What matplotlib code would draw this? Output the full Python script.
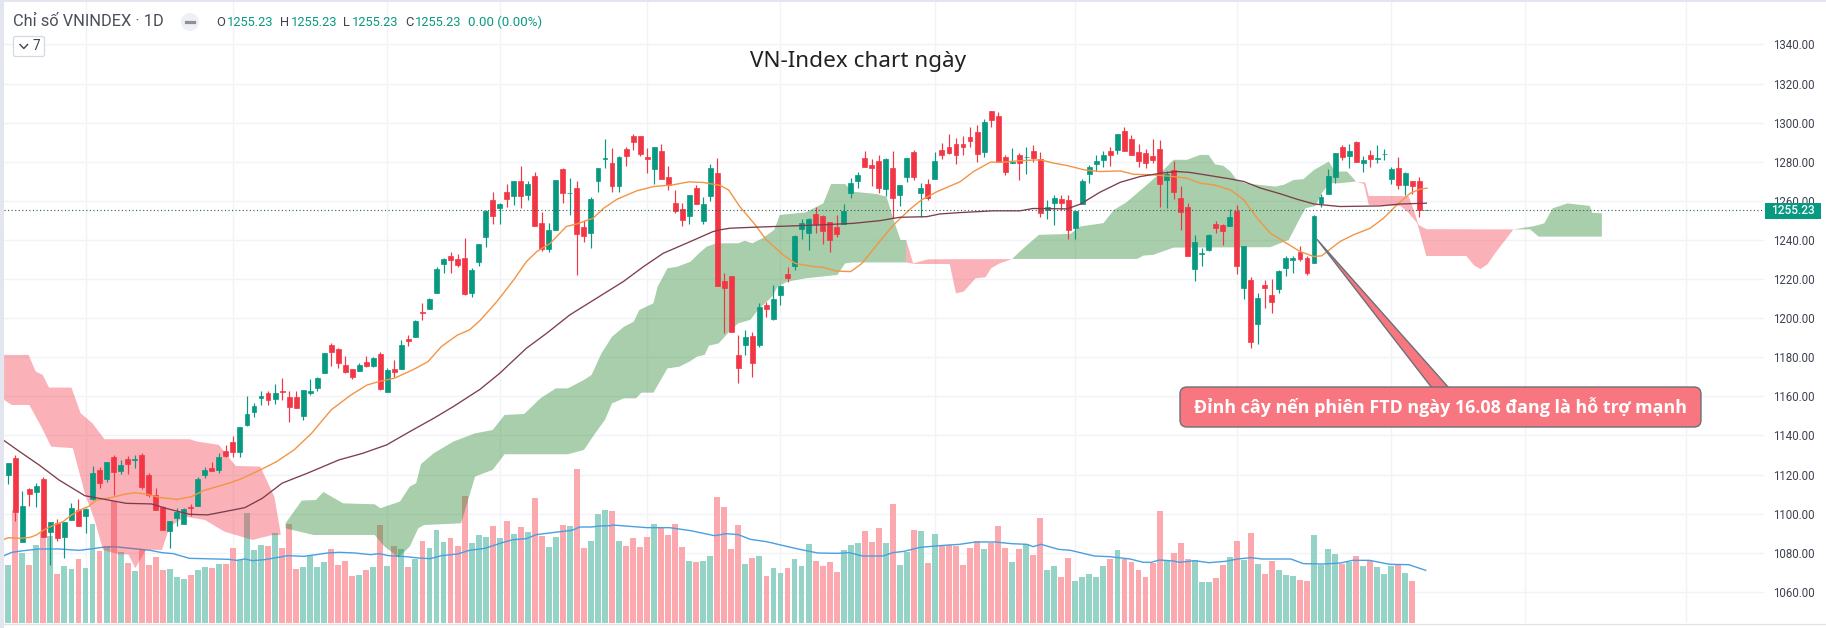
import numpy as np
import matplotlib
matplotlib.use("Agg")
import matplotlib.pyplot as plt
from matplotlib.patches import FancyBboxPatch, Rectangle, Circle, Polygon
from matplotlib.lines import Line2D
from matplotlib.transforms import Affine2D

opens = [1119.8,1128.3,1085.7,1112.6,1111.1,1117.6,1090.6,1095.4,1088.2,1096.7,
1101.9,1098.8,1107.5,1122.3,1117.7,1129.1,1121.8,1128.0,1127.6,1130.0,
1119.8,1109.4,1103.6,1091.3,1097.8,1094.9,1103.2,1103.9,1119.8,1123.2,
1122.3,1131.9,1136.5,1131.8,1145.2,1152.0,1159.4,1161.6,1158.9,1162.8,
1159.7,1159.5,1150.0,1161.9,1164.1,1171.8,1186.3,1184.1,1175.9,1173.9,
1173.2,1177.6,1175.6,1181.7,1162.4,1173.9,1174.2,1189.6,1190.6,1203.2,
1204.9,1213.0,1227.9,1231.8,1230.3,1230.6,1213.0,1228.9,1241.7,1260.2,
1256.6,1264.6,1262.7,1270.2,1263.1,1272.8,1248.6,1235.4,1245.3,1276.4,
1263.9,1266.6,1246.5,1243.6,1269.9,1281.6,1279.4,1267.8,1286.6,1293.2,
1293.2,1282.3,1276.4,1285.6,1272.3,1258.9,1255.9,1252.5,1266.6,1249.8,
1262.5,1274.3,1219.0,1221.8,1181.2,1186.3,1190.9,1186.3,1206.8,1199.6,
1212.0,1222.6,1226.9,1245.5,1243.6,1253.3,1252.3,1249.0,1246.7,1248.4,
1264.2,1270.4,1281.8,1278.4,1280.4,1265.9,1276.8,1263.2,1272.2,1285.0,
1264.2,1268.6,1271.2,1286.0,1287.4,1289.1,1289.2,1292.7,1295.3,1285.1,
1306.0,1303.5,1282.5,1279.3,1283.5,1282.2,1285.6,1281.5,1255.2,1259.0,
1261.0,1260.5,1246.2,1258.5,1273.6,1279.0,1281.0,1285.6,1286.1,1295.8,
1291.7,1285.1,1284.5,1283.0,1286.6,1270.7,1275.9,1261.5,1256.9,1225.2,
1232.9,1234.9,1248.2,1247.7,1247.2,1254.9,1215.5,1219.6,1197.1,1217.0,
1211.9,1215.0,1225.7,1229.8,1233.9,1230.8,1228.3,1258.9,1263.6,1272.3,
1287.4,1283.0,1290.2,1279.4,1283.5,1281.5,1283.9,1271.2,1276.9,1268.2,
1270.0,1270.2,1255.23]
highs = [1126.1,1130.0,1111.8,1113.3,1115.5,1118.6,1095.7,1097.1,1095.7,1105.3,
1107.3,1102.7,1124.4,1124.0,1126.4,1130.0,1127.4,1129.5,1130.0,1131.2,
1120.6,1112.9,1103.9,1096.2,1102.7,1102.7,1104.8,1118.9,1123.7,1126.6,
1130.9,1135.1,1139.7,1144.5,1160.2,1156.5,1163.0,1163.0,1166.2,1169.3,
1163.0,1163.0,1163.3,1169.1,1170.1,1182.0,1187.2,1184.6,1180.7,1173.9,
1176.9,1180.7,1180.3,1182.6,1174.4,1178.6,1188.9,1191.3,1199.1,1207.9,
1210.1,1226.0,1230.6,1234.0,1232.7,1241.2,1225.5,1237.9,1255.4,1264.6,
1258.8,1268.5,1270.2,1277.9,1270.2,1274.6,1254.5,1248.6,1270.7,1276.7,
1271.6,1270.2,1250.3,1262.2,1276.9,1291.7,1286.9,1283.0,1287.4,1294.3,
1293.2,1286.9,1287.4,1289.1,1277.9,1265.6,1259.1,1263.1,1268.2,1262.2,
1278.9,1281.8,1223.0,1221.8,1191.4,1194.0,1193.1,1207.6,1208.5,1217.0,
1217.0,1226.4,1242.6,1250.6,1251.1,1256.7,1252.8,1249.4,1252.8,1258.4,
1271.5,1274.6,1285.7,1281.3,1283.5,1281.8,1285.7,1268.1,1281.9,1286.0,
1269.0,1271.0,1284.8,1289.8,1294.2,1292.0,1293.2,1297.8,1298.9,1301.8,
1306.0,1305.4,1283.5,1286.9,1284.4,1287.3,1288.6,1284.9,1260.5,1263.1,
1263.1,1263.1,1254.9,1271.2,1278.4,1283.5,1285.6,1287.3,1294.3,1298.0,
1293.8,1289.2,1286.6,1291.7,1291.2,1275.3,1280.5,1267.7,1259.0,1242.6,
1235.8,1243.3,1249.7,1248.2,1255.9,1257.9,1236.9,1221.1,1213.1,1219.6,
1220.1,1224.7,1231.9,1231.9,1236.9,1231.9,1252.8,1263.6,1276.4,1284.7,
1288.6,1289.1,1290.7,1283.0,1286.1,1288.6,1286.6,1277.2,1282.3,1274.8,
1270.2,1272.3,1255.23]
lows = [1115.2,1096.2,1085.7,1103.9,1103.2,1088.2,1073.7,1086.2,1077.1,1096.7,
1093.9,1089.9,1107.0,1113.3,1116.2,1109.7,1120.1,1120.3,1123.2,1112.4,
1108.3,1101.9,1091.6,1082.6,1093.7,1094.5,1099.0,1103.9,1118.4,1122.0,
1121.0,1129.1,1129.1,1128.9,1144.9,1149.7,1155.6,1155.6,1156.1,1158.2,
1147.1,1154.3,1148.0,1160.7,1163.0,1171.8,1175.6,1174.4,1172.2,1168.9,
1173.2,1175.2,1175.2,1163.3,1162.4,1169.8,1174.2,1185.8,1190.6,1199.1,
1204.9,1213.0,1223.3,1223.3,1226.3,1211.9,1211.0,1226.9,1236.6,1248.2,
1248.2,1256.7,1257.9,1256.4,1260.5,1247.2,1234.1,1233.6,1245.3,1259.1,
1252.8,1222.1,1239.0,1236.1,1264.6,1277.0,1264.6,1264.6,1277.6,1286.1,
1283.0,1274.1,1268.5,1271.4,1265.6,1254.0,1247.2,1248.2,1258.6,1248.2,
1260.0,1216.7,1192.3,1193.1,1166.7,1181.2,1170.1,1185.4,1200.8,1199.1,
1206.8,1218.7,1224.7,1240.5,1234.9,1243.8,1238.0,1233.7,1241.4,1248.4,
1261.7,1266.6,1277.2,1267.6,1264.2,1262.5,1251.1,1257.4,1269.8,1270.7,
1251.9,1260.5,1271.2,1281.4,1283.8,1278.9,1283.5,1287.6,1280.1,1282.2,
1297.8,1279.8,1273.0,1279.3,1270.9,1273.8,1280.1,1251.5,1250.8,1247.7,
1255.4,1240.6,1240.6,1258.5,1268.9,1275.3,1277.4,1277.9,1284.0,1285.7,
1283.5,1277.4,1276.9,1279.4,1256.9,1256.4,1261.0,1245.2,1231.9,1219.1,
1226.7,1234.4,1243.6,1237.5,1247.2,1222.6,1209.9,1184.8,1186.8,1205.2,
1202.7,1212.9,1221.6,1223.2,1229.3,1222.1,1228.3,1256.9,1263.6,1269.2,
1281.0,1276.9,1279.9,1274.8,1277.5,1279.4,1281.0,1268.7,1266.1,1263.0,
1263.6,1251.6,1255.23]
closes = [1125.7,1101.0,1103.9,1110.0,1114.1,1088.2,1095.7,1087.4,1095.7,1102.7,
1093.9,1102.4,1121.0,1115.8,1126.4,1121.5,1124.9,1125.4,1128.0,1113.8,
1109.7,1102.0,1091.6,1096.2,1100.8,1102.4,1102.7,1117.9,1122.3,1122.0,
1129.1,1129.5,1131.7,1144.2,1151.0,1155.1,1160.1,1158.2,1161.6,1162.4,
1154.8,1154.3,1163.3,1162.8,1169.4,1182.0,1182.9,1176.9,1172.5,1169.8,
1175.9,1175.6,1179.8,1163.8,1173.5,1172.5,1186.3,1188.5,1198.6,1202.5,
1209.8,1225.2,1230.3,1229.8,1227.0,1212.2,1224.6,1237.9,1255.0,1252.3,
1258.4,1261.0,1270.0,1262.5,1268.7,1247.2,1235.4,1245.2,1270.7,1264.2,
1264.2,1243.3,1242.1,1260.7,1276.9,1282.0,1267.8,1282.5,1283.0,1290.2,
1284.0,1281.6,1287.4,1271.4,1268.2,1254.9,1250.3,1263.1,1258.6,1258.4,
1276.9,1216.7,1215.6,1193.1,1174.7,1190.2,1177.3,1205.6,1204.7,1209.8,
1216.5,1220.7,1242.0,1248.5,1250.6,1248.4,1244.8,1240.0,1243.1,1254.8,
1269.2,1273.3,1277.5,1277.0,1266.6,1281.3,1261.7,1268.0,1281.9,1272.2,
1266.6,1261.7,1280.4,1283.5,1284.3,1283.5,1287.6,1290.7,1284.2,1300.4,
1301.4,1279.8,1275.0,1280.1,1279.4,1282.5,1282.0,1254.0,1256.9,1261.5,
1259.0,1245.2,1254.9,1270.2,1277.4,1280.5,1283.5,1283.5,1294.3,1285.7,
1283.5,1280.5,1279.4,1281.0,1268.7,1273.8,1264.6,1254.4,1231.9,1239.0,
1233.4,1242.6,1246.2,1244.6,1251.6,1226.9,1236.9,1187.9,1210.4,1215.5,
1208.3,1224.2,1230.7,1230.8,1230.3,1223.2,1252.3,1262.0,1272.8,1284.4,
1282.5,1285.6,1279.9,1281.0,1281.5,1282.0,1284.2,1276.4,1268.2,1274.3,
1267.8,1255.23,1255.23]

volumes = [175,340,210,175,235,270,260,148,172,163,193,166,298,215,230,365,213,180,157,220,
175,198,160,163,139,133,145,160,169,166,178,178,225,190,330,220,235,232,270,225,
298,162,167,205,167,184,223,175,187,142,145,160,167,295,170,230,223,167,193,245,
226,280,244,256,230,382,240,265,259,292,256,307,268,289,274,376,260,229,259,295,
292,463,226,247,328,340,337,247,232,256,229,259,298,289,265,298,229,187,184,187,
202,379,349,223,295,178,196,202,142,166,151,166,193,172,238,187,172,184,154,220,
235,241,277,244,286,241,358,175,214,280,277,181,268,232,235,232,175,226,247,223,
241,292,226,184,223,238,205,316,160,172,139,196,127,139,148,139,172,193,220,193,
184,160,139,181,337,187,211,241,193,190,124,124,136,175,199,247,190,271,178,148,
187,160,145,142,130,127,265,175,223,208,178,184,202,172,187,169,148,172,175,151,127]

vol_ma_x = [-0.6,0.5,2.2,4.4,7.2,10.1,11.7,13.4,15.1,17.4,20.2,21.9,23.5,25.8,31.4,32.5,33.7,34.8,36.5,38.2,39.8,42.1,45.5,47.1,49.4,51.6,52.8,54.2,56.7,58.4,60.1,61.7,64,65.7,67.9,70.2,71.9,73.8,75.2,78.6,80.3,81.4,83.1,84.2,85.9,
86,91,94.2,97.2,100.6,102.3,104,105.7,108,112.5,115.3,118.1,119.8,121.7,124.6,126,127.6,129.9,131.6,133.3,135.5,137.8,140.6,142.9,145.1,146,147.1,149.6,151.3,154.7,156.9,159.8,161.7,162.8,164,166,166.8,169,171,
173.4,175.1,177,178.6,182.7,184.5,187.4,189.8,191.5,193.9,196.8,199.5,201.9]
vol_ma_y = [202,212,217,222,222,218,222,227,229,224,218,211,208,194,191,188,192,187,190,196,202,200,210,212,210,205,208,202,199,195,193,202,207,218,224,240,250,253,265,274,278,288,288,291,292,
294,286,286,277,262,268,265,251,244,222,210,209,211,201,201,211,215,227,230,233,236,243,243,238,236,229,236,221,218,201,199,192,182,182,189,186,182,187,181,
185,192,196,192,192,178,177,180,188,188,176,175,158]

ema_fast_x = [-0.6,0,1.7,3.1,4,5,6.2,7.8,9,10.2,11.4,12.6,14,15.2,16.6,18,19.7,21.6,24,26.1,27.8,29.7,31.6,33,35.9,38.2,40.7,43.2,46,48.8,51.1,52.8,55,57.8,59.8,61.7,64,65.7,
67.2,69.6,72,73.8,75.3,77.2,79.5,81,83.3,84.8,86.7,89.5,91.9,94.7,96.9,99,101.4,102.6,104.2,106.4,108,110.4,112.1,114.7,116.1,118,120,121.6,123.7,126.1,128.5,130.1,132.3,135.6,
137.5,139.9,141.8,143.9,147,148.9,150.8,153.2,155.5,158.4,160.3,163.1,166,167.9,169.8,171.7,174.1,176,177.9,179.8,181.7,184,186,187.1,189.7,191.6,194,195.9,197.8,199.7,201.1,202.1]
ema_fast_y = [1086.9,1087.7,1087.4,1087.9,1089.1,1091.6,1093.7,1095.9,1099.3,1101.9,1103.6,1107.0,1107.8,1108.7,1110.0,1110.7,1110.0,1108.3,1107.3,1108.7,1111.8,1113.8,1115.8,1117.6,1122.4,1126.6,1132.6,1141.1,1153.1,1160.7,1165.8,1167.6,1169.3,1173.9,1177.8,1185.5,1191.4,1194,
1198.8,1208.5,1219.6,1228.9,1234.1,1238.3,1246.9,1248.2,1251.1,1256.2,1260.8,1265.1,1267.3,1268.2,1269.7,1269.4,1267.9,1265.6,1257.1,1247.7,1240,1232.3,1228,1226.4,1226,1224.1,1223.8,1228,1237.4,1247.7,1255.9,1260.5,1264.7,1269.8,
1275,1279.8,1279.8,1280.5,1281,1279.3,1278.1,1275.9,1275,1275.3,1273.6,1273.3,1272.4,1271.6,1269,1268.2,1265.6,1260.5,1251.1,1243.4,1239.2,1234.1,1231.5,1231.9,1239.2,1242.6,1246,1251.1,1257.9,1263.9,1266,1266.5]

ema_slow_x = [-0.6,1.6,4.4,7.2,10.9,12.9,16.8,20.4,22.4,25.8,28.4,32,33.7,36.2,39,42.6,47.1,50.5,53.9,57.2,60.6,63.4,67.2,70,73.8,76.7,80,83.8,87.6,90.5,93.3,96.6,100.4,101.4,
102.8,106.1,111.8,115.6,120.4,124.2,127,130.8,132.7,135.6,140.3,144.1,146,150.8,152.7,155.5,158.4,161.2,164.1,166.5,168.4,169.8,174.1,176,178.4,181.2,183.6,186,189.7,195.4,198.3,202]
ema_slow_y = [1137.4,1131.8,1124.9,1117.3,1109.2,1107.9,1105.3,1105,1102.8,1099.7,1099.4,1101.9,1103.1,1107.9,1115.6,1120.7,1127.5,1130.9,1135.2,1142,1148.8,1154.8,1163.6,1171.8,1184.6,1192.3,1201.7,1210.2,1218.7,1226.4,1233.2,1238.3,1244.3,1245.2,
1246,1246.5,1247.2,1247.7,1248.5,1249.9,1251.6,1251.9,1253.3,1254,1254.9,1254.9,1256.1,1255.9,1258.3,1264.4,1269.5,1272.4,1274.1,1275,1274.5,1273.7,1271.2,1269.9,1266.5,1263.6,1260.8,1258.4,1257.1,1257.4,1258.4,1258.8]

# Ichimoku cloud outline, by stretch: bar index and price of the upper and lower span
red1_up_x = [-0.6,2.9,3.9,4.9,5.8,9.0,10.3,12.0,13.7,25.8,26.9,30.0,32.4,35.9,37.9,38.8]
red1_up_y = [1181.2,1181.2,1172.7,1171.0,1164.5,1164.5,1151.4,1146.2,1138.1,1138.1,1136.9,1135.2,1124.4,1124.1,1108.7,1090.0]
red1_lo_x = [-0.6,0.5,3.0,4.7,6.1,9.2,10.9,12.3,13.5,15.7,17.1,18.1,19.6,21.9,23.0,25.2,28.0,30.8,34.8,37.6,38.8]
red1_lo_y = [1158.2,1155.6,1155.6,1144.5,1134.3,1133.5,1110.4,1096.8,1081.5,1079.2,1079.2,1072.1,1081.5,1081.5,1093.4,1098.5,1096.8,1090.8,1086.6,1089.1,1089.1]
green1_up_x = [39.5,41.8,43.8,44.9,47.7,52.2,53.0,55.8,57.2,58.1,58.8,60.6,63.4,66.5,69.0,70.7,73.5,75.8,78.0,79.7,82.0,83.1,84.5,86.0,87.7,89.1,89.9,91.9,92.5,93.9,95.3,97.2,98.4,99.5,100.9,104.0,104.9,106.0,107.4,109.1,109.9,113.6,116.1,117.2,119.2,120.3,123.7,125.1,126.2,127.1,127.9]
green1_up_y = [1095.1,1106.7,1107.0,1111.1,1105.3,1104.8,1102.8,1106.2,1113.9,1115.6,1125.4,1130.9,1136.9,1141.1,1142.8,1150.5,1151.0,1159.0,1164.1,1164.1,1168.4,1171.0,1182.0,1190.5,1195.6,1198.2,1204.2,1207.6,1216.1,1225.5,1226.3,1228.9,1233.2,1236.6,1238.3,1238.3,1239.6,1238.3,1240.8,1245.1,1252.8,1254.1,1258.7,1268.6,1268.6,1264.7,1263.5,1262.1,1249.4,1240.0,1240.0]
green1_lo_x = [39.5,43.5,52.2,53.6,55.6,57.2,58.4,59.2,64.5,66.5,69.0,70.7,79.7,82.0,83.6,85.0,86.0,87.7,89.4,90.2,91.9,93.9,95.6,97.0,98.1,99.2,99.8,101.2,102.9,104.0,105.7,106.8,108.8,109.6,111.0,113.6,118.1,119.2,120.3,127.9]
green1_lo_y = [1092.5,1089.1,1089.1,1083.2,1077.7,1083.2,1092.5,1094.2,1095.1,1119.0,1122.4,1130.4,1130.4,1132.6,1141.1,1148.0,1156.4,1159.0,1159.0,1161.9,1161.9,1174.3,1175.2,1177.7,1180.3,1181.2,1185.9,1187.1,1193.9,1197.4,1199.1,1204.2,1211.0,1216.1,1218.7,1220.4,1222.1,1228.0,1228.5,1228.5]
red2_up_x = [127.9,128.9,131.0,143.0]
red2_up_y = [1240.0,1228.0,1230.1,1230.2]
red2_lo_x = [127.9,129.1,134.1,135.0,136.1,137.8,139.2,140.0,141.2,143.0]
red2_lo_y = [1228.5,1227.7,1227.7,1212.7,1213.6,1220.4,1220.9,1225.5,1228.0,1230.2]
green2_up_x = [143.0,144.1,146.8,151.3,152.7,156.0,157.5,159.3,162.2,164.6,166.0,167.9,169.8,171.0,171.9,173.1,174.1,175.0,176.2,178.1,180.5,181.7,183.1,184.5,186.0,188.1,189.0,190.7,192.0]
green2_up_y = [1230.3,1234.1,1242.6,1243.1,1246.9,1248.6,1255.4,1259.3,1268.2,1275.9,1281.0,1281.0,1283.5,1283.5,1278.7,1277.9,1275.0,1270.7,1269.0,1268.2,1267.3,1268.2,1270.7,1271.1,1275.8,1280.1,1275.0,1275.0,1269.9]
green2_lo_x = [143.0,160.8,161.7,163.1,166.0,179.8,181.2,182.4,184.0,184.8,186.2,187.1,188.2,189.7,192.0]
green2_lo_y = [1230.3,1230.3,1232.0,1232.4,1236.1,1236.3,1238.3,1240.0,1251.1,1256.2,1257.4,1263.9,1269.0,1269.0,1269.9]
red3_up_x = [192.1,193.3,193.8,198.3,199.5,200.2,200.9,202.0,214.4]
red3_up_y = [1269.5,1269.5,1262.5,1262.5,1262.2,1255.4,1247.7,1245.5,1245.4]
red3_lo_x = [192.1,193.1,193.8,198.3,199.3,200.7,202.0,207.7,208.8,209.7,210.7,211.8,214.4]
red3_lo_y = [1269.5,1268.7,1257.9,1257.4,1254.5,1248.6,1231.8,1231.8,1227.0,1225.1,1227.5,1233.2,1245.4]
green3_up_x = [214.4,217.4,218.8,220.0,222.1,225.3,225.6,227.0]
green3_up_y = [1245.4,1247.1,1248.5,1256.2,1258.7,1257.4,1253.9,1253.6]
green3_lo_x = [214.4,216.8,218.0,227.0]
green3_lo_y = [1245.4,1245.4,1241.7,1241.7]

price_ticks = list(range(1060, 1341, 20))
date_grid = [11,32,54,70,91,110,132,152,175,197,216,239]
last_price = 1255.23
callout_tip = (186.4, 1240.4)
callout_base = [(202.7, 1164.8), (205.1, 1164.8)]

W, H = 1826, 628
UI = ['Roboto', 'DejaVu Sans']
GREEN, RED = '#089981', '#f23645'
fig = plt.figure(figsize=(W/100, H/100), dpi=100, facecolor='white')
px = Affine2D().scale(1, -1).translate(0, H)   # figure pixels, y measured from the top

rect = [4/W, (H-623)/H, 1760/W, 621/H]
xlim = (-0.61, 250.1)
ylim = (1044.1, 1361.7)

ax_bg = fig.add_axes(rect, zorder=0)
ax_vol = fig.add_axes(rect, zorder=1); ax_vol.patch.set_visible(False)
ax_p = fig.add_axes(rect, zorder=2); ax_p.patch.set_visible(False)
for a in (ax_bg, ax_vol, ax_p):
    a.set_xlim(*xlim)
    for s in a.spines.values():
        s.set_visible(False)
ax_bg.set_ylim(*ylim); ax_p.set_ylim(*ylim); ax_vol.set_ylim(0, 1863)
ax_vol.set_xticks([]); ax_vol.set_yticks([]); ax_p.set_xticks([]); ax_p.set_yticks([])

ax_bg.yaxis.tick_right()
ax_bg.set_yticks(price_ticks)
ax_bg.set_yticklabels([f'{v:.2f}' for v in price_ticks], fontsize=8.3, color='#3f4350', family=UI)
ax_bg.tick_params(axis='y', length=0, pad=6.5)
ax_bg.set_xticks(date_grid); ax_bg.set_xticklabels([])
ax_bg.tick_params(axis='x', length=0)
ax_bg.grid(True, color='#f2f3f8', lw=1.0)

idx = np.arange(len(opens))
o, h, l, c = map(np.array, (opens, highs, lows, closes))
up = c >= o

# volume
vx = np.arange(len(volumes))
ax_vol.bar(vx, volumes, width=0.84,
           color=['#94d3c5' if u else '#fba8af' for u in up[:len(volumes)]], lw=0)
ax_vol.plot(vol_ma_x, vol_ma_y, color='#4a9fe0', lw=1.0)

# cloud
def cloud(ux, uy, lx, ly, col, alpha):
    ax_p.fill(list(ux) + list(lx)[::-1], list(uy) + list(ly)[::-1], color=col, alpha=alpha, lw=0, zorder=1)
for ux, uy, lx, ly in [(red1_up_x, red1_up_y, red1_lo_x, red1_lo_y),
                       (red2_up_x, red2_up_y, red2_lo_x, red2_lo_y),
                       (red3_up_x, red3_up_y, red3_lo_x, red3_lo_y)]:
    cloud(ux, uy, lx, ly, RED, 0.38)
for ux, uy, lx, ly in [(green1_up_x, green1_up_y, green1_lo_x, green1_lo_y),
                       (green2_up_x, green2_up_y, green2_lo_x, green2_lo_y),
                       (green3_up_x, green3_up_y, green3_lo_x, green3_lo_y)]:
    cloud(ux, uy, lx, ly, '#388e3c', 0.43)

# candles
cols = [GREEN if u else RED for u in up]
ax_p.vlines(idx, l, h, colors=cols, lw=0.85, zorder=3)
ax_p.bar(idx, np.abs(c-o), bottom=np.minimum(o, c), width=0.7, color=cols, edgecolor=cols, lw=0.5, zorder=3)

# moving averages
ax_p.plot(ema_fast_x, ema_fast_y, color='#f39544', lw=1.0, zorder=4)
ax_p.plot(ema_slow_x, ema_slow_y, color='#7d3d4c', lw=0.95, zorder=4)

# last price
ax_p.axhline(last_price, color='#2c5f54', lw=0.8, ls=(0, (1, 2.2)), zorder=5)
fig.add_artist(Rectangle((1765, 203), 56, 16, transform=px, facecolor=GREEN, edgecolor='none', zorder=20))
fig.text(1793, 211, f'{last_price:.2f}', transform=px, ha='center', va='center', color='white',
         fontsize=8.6, family=UI, fontweight='medium', zorder=21)

# frame
fig.add_artist(Rectangle((0, 0), 4, H, transform=px, facecolor='#e3e5ef', edgecolor='none', zorder=15))
fig.add_artist(Rectangle((0, 0), W, 2.3, transform=px, facecolor='#e3e5ef', edgecolor='none', zorder=15))
fig.add_artist(Line2D([4, W], [623.5, 623.5], transform=px, color='#e0e3eb', lw=0.9, zorder=15))

# header
fig.text(13, 22, 'Chỉ số VNINDEX · 1D', transform=px, va='center', fontsize=11.8, color='#4a4e5a', family=UI, zorder=20)
fig.add_artist(Circle((190, 22), 9, transform=px, facecolor='#eef0f5', edgecolor='none', zorder=19))
fig.add_artist(Line2D([186, 194], [22.3, 22.3], transform=px, color='#8d909b', lw=2.3, zorder=20))
for xl, lab, xv in [(216, 'O', 227), (280, 'H', 291), (343, 'L', 352), (405, 'C', 415)]:
    fig.text(xl, 22.5, lab, transform=px, va='center', fontsize=9.3, color='#3f4350', family=UI, zorder=20)
    fig.text(xv, 22.5, f'{last_price:.2f}', transform=px, va='center', fontsize=9.3, color=GREEN, family=UI, zorder=20)
fig.text(468, 22.5, '0.00 (0.00%)', transform=px, va='center', fontsize=9.5, color=GREEN, family=UI, zorder=20)
fig.add_artist(FancyBboxPatch((13.5, 36.5), 31, 20, boxstyle='round,pad=0,rounding_size=2', transform=px,
                              facecolor='white', edgecolor='#d6d8e0', lw=0.9, zorder=19))
fig.add_artist(Line2D([20, 23.8, 27.6], [44.5, 48.5, 44.5], transform=px, color='#3f4350', lw=1.0, zorder=20))
fig.text(36, 46, '7', transform=px, ha='center', va='center', fontsize=9.8, color='#3f4350', family=UI, zorder=20)

# title
fig.text(858, 61.5, 'VN-Index chart ngày', transform=px, ha='center', va='center', fontsize=16.2,
         color='#222222', family=['Noto Sans', 'DejaVu Sans'], zorder=20)

# callout
GREY = '#6d7078'
ax_p.add_patch(Polygon([callout_tip, callout_base[0], callout_base[1]], closed=True, facecolor='#f7767f',
                       edgecolor=GREY, lw=1.0, zorder=6, joinstyle='miter'))
fig.add_artist(FancyBboxPatch((1180, 387), 521, 40, boxstyle='round,pad=0,rounding_size=7', transform=px,
                              facecolor='#f7767f', edgecolor=GREY, lw=1.0, zorder=16))
ax_p.add_patch(Polygon([(callout_base[0][0]+0.1, 1164.2), (callout_base[1][0]-0.1, 1164.2),
                        (callout_base[1][0]-0.1, 1165.4), (callout_base[0][0]+0.1, 1165.4)],
                       closed=True, facecolor='#f7767f', edgecolor='none', zorder=7))
fig.text(1440, 407, 'Đỉnh cây nến phiên FTD ngày 16.08 đang là hỗ trợ mạnh', transform=px, ha='center', va='center',
         fontsize=12.9, fontweight='bold', color='white', family=['Open Sans', 'DejaVu Sans'], zorder=21)

fig.savefig('out.png', dpi=100, facecolor='white')
